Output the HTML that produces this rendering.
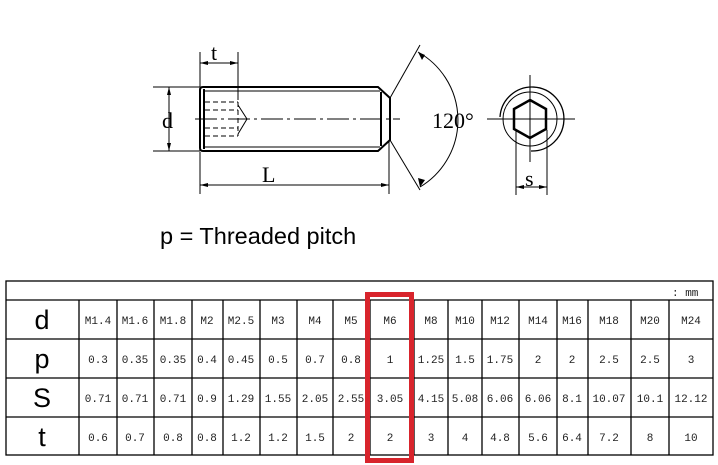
<!DOCTYPE html>
<html><head><style>
body{margin:0;background:#fff;width:718px;height:465px;overflow:hidden;position:relative;font-family:"Liberation Sans",sans-serif}
svg{position:absolute;left:0;top:0}
.c{font-family:"Liberation Mono",monospace;font-size:11px;fill:#222}
</style></head><body>
<svg width="718" height="465" viewBox="0 0 718 465">
<g stroke="#000" fill="none" stroke-width="1">
<path d="M203 87 H378 L390 98 V140 L378 151 H203 Q200 151 200 148 V90 Q200 87 203 87Z" stroke-width="2"/>
<line x1="204" y1="91" x2="380" y2="91"/>
<line x1="204" y1="147" x2="380" y2="147"/>
<line x1="204" y1="89" x2="204" y2="149" stroke-width="2"/>
<line x1="381" y1="92" x2="381" y2="146" stroke-width="2"/>
<g stroke-dasharray="5,3">
<line x1="205" y1="102" x2="238" y2="102"/><line x1="205" y1="110" x2="238" y2="110"/>
<line x1="205" y1="128" x2="238" y2="128"/><line x1="205" y1="136" x2="238" y2="136"/>
<line x1="238" y1="102" x2="238" y2="136"/>
</g>
<path d="M238 105 L247 119 L238 134"/>
<line x1="195" y1="119" x2="400" y2="119" stroke-dasharray="22,4,3,4"/>
<line x1="200" y1="52" x2="200" y2="87"/><line x1="238" y1="52" x2="238" y2="100"/>
<line x1="200" y1="63" x2="238" y2="63"/>
<line x1="153" y1="87" x2="200" y2="87"/><line x1="153" y1="151" x2="200" y2="151"/>
<line x1="169" y1="87" x2="169" y2="151"/>
<line x1="200" y1="152" x2="200" y2="194"/><line x1="389" y1="142" x2="389" y2="194"/>
<line x1="200" y1="185" x2="389" y2="185"/>
<line x1="390" y1="98" x2="420" y2="45"/><line x1="390" y1="140" x2="420" y2="190"/>
<path d="M418 52 A78 78 0 0 1 420 187"/>
<path d="M500 117 A32 32 0 1 1 531 151" stroke-width="1.3"/>
<circle cx="530" cy="119" r="27"/>
<path d="M530 100 L546 109 V129 L530 138 L514 129 V109Z" stroke-width="2.5"/>
<line x1="487" y1="119" x2="575" y2="119"/><line x1="530" y1="75" x2="530" y2="162"/>
<line x1="516" y1="130" x2="516" y2="195"/><line x1="547" y1="130" x2="547" y2="195"/>
<line x1="516" y1="187" x2="547" y2="187"/>
</g>
<g fill="#000">
<path d="M200 63 l8 -2 v4z M238 63 l-8 -2 v4z M169 87 l-2 8 h4z M169 151 l-2 -8 h4z M200 185 l8 -2 v4z M389 185 l-8 -2 v4z M516 187 l8 -2 v4z M547 187 l-8 -2 v4z M418 52 l4 8 l3 -5z M420 187 l5 -7 l-7 -2z"/>
</g>
<g font-family="Liberation Serif,serif" font-size="22" fill="#000">
<text x="211" y="60">t</text><text x="162" y="128">d</text><text x="262" y="182">L</text>
<text x="432" y="128">120°</text><text x="525" y="186">s</text>
</g>
<text x="160" y="244" font-size="23.5" fill="#000">p = Threaded pitch</text>
<g stroke="#000" stroke-width="1.3" fill="none">
<rect x="6" y="281" width="707" height="174"/>
<line x1="6" y1="300" x2="713" y2="300"/><line x1="6" y1="339" x2="713" y2="339"/>
<line x1="6" y1="378" x2="713" y2="378"/><line x1="6" y1="417" x2="713" y2="417"/>
<path d="M79 300V455M117 300V455M154 300V455M192 300V455M223 300V455M260 300V455M297 300V455M333 300V455M370 300V455M414 300V455M448 300V455M482 300V455M519 300V455M557 300V455M588 300V455M631 300V455M669 300V455"/>
</g>
<text class="c" x="672" y="296" font-size="9">: mm</text>
<g font-size="27" fill="#000" text-anchor="middle"><text x="42" y="329">d</text><text x="42" y="368">p</text><text x="42" y="407">S</text><text x="42" y="446">t</text></g>
<g class="c" text-anchor="middle">
<text x="98" y="324">M1.4</text><text x="135" y="324">M1.6</text><text x="173" y="324">M1.8</text><text x="207" y="324">M2</text><text x="241" y="324">M2.5</text><text x="278" y="324">M3</text><text x="315" y="324">M4</text><text x="351" y="324">M5</text><text x="390" y="324">M6</text><text x="431" y="324">M8</text><text x="465" y="324">M10</text><text x="500" y="324">M12</text><text x="538" y="324">M14</text><text x="572" y="324">M16</text><text x="609" y="324">M18</text><text x="650" y="324">M20</text><text x="691" y="324">M24</text>
<text x="98" y="363">0.3</text><text x="135" y="363">0.35</text><text x="173" y="363">0.35</text><text x="207" y="363">0.4</text><text x="241" y="363">0.45</text><text x="278" y="363">0.5</text><text x="315" y="363">0.7</text><text x="351" y="363">0.8</text><text x="390" y="363">1</text><text x="431" y="363">1.25</text><text x="465" y="363">1.5</text><text x="500" y="363">1.75</text><text x="538" y="363">2</text><text x="572" y="363">2</text><text x="609" y="363">2.5</text><text x="650" y="363">2.5</text><text x="691" y="363">3</text>
<text x="98" y="402">0.71</text><text x="135" y="402">0.71</text><text x="173" y="402">0.71</text><text x="207" y="402">0.9</text><text x="241" y="402">1.29</text><text x="278" y="402">1.55</text><text x="315" y="402">2.05</text><text x="351" y="402">2.55</text><text x="390" y="402">3.05</text><text x="431" y="402">4.15</text><text x="465" y="402">5.08</text><text x="500" y="402">6.06</text><text x="538" y="402">6.06</text><text x="572" y="402">8.1</text><text x="609" y="402">10.07</text><text x="650" y="402">10.1</text><text x="691" y="402">12.12</text>
<text x="98" y="441">0.6</text><text x="135" y="441">0.7</text><text x="173" y="441">0.8</text><text x="207" y="441">0.8</text><text x="241" y="441">1.2</text><text x="278" y="441">1.2</text><text x="315" y="441">1.5</text><text x="351" y="441">2</text><text x="390" y="441">2</text><text x="431" y="441">3</text><text x="465" y="441">4</text><text x="500" y="441">4.8</text><text x="538" y="441">5.6</text><text x="572" y="441">6.4</text><text x="609" y="441">7.2</text><text x="650" y="441">8</text><text x="691" y="441">10</text>
</g>
<rect x="367.5" y="294.5" width="44" height="166" fill="none" stroke="#d8242c" stroke-width="5"/>
</svg>
</body></html>
